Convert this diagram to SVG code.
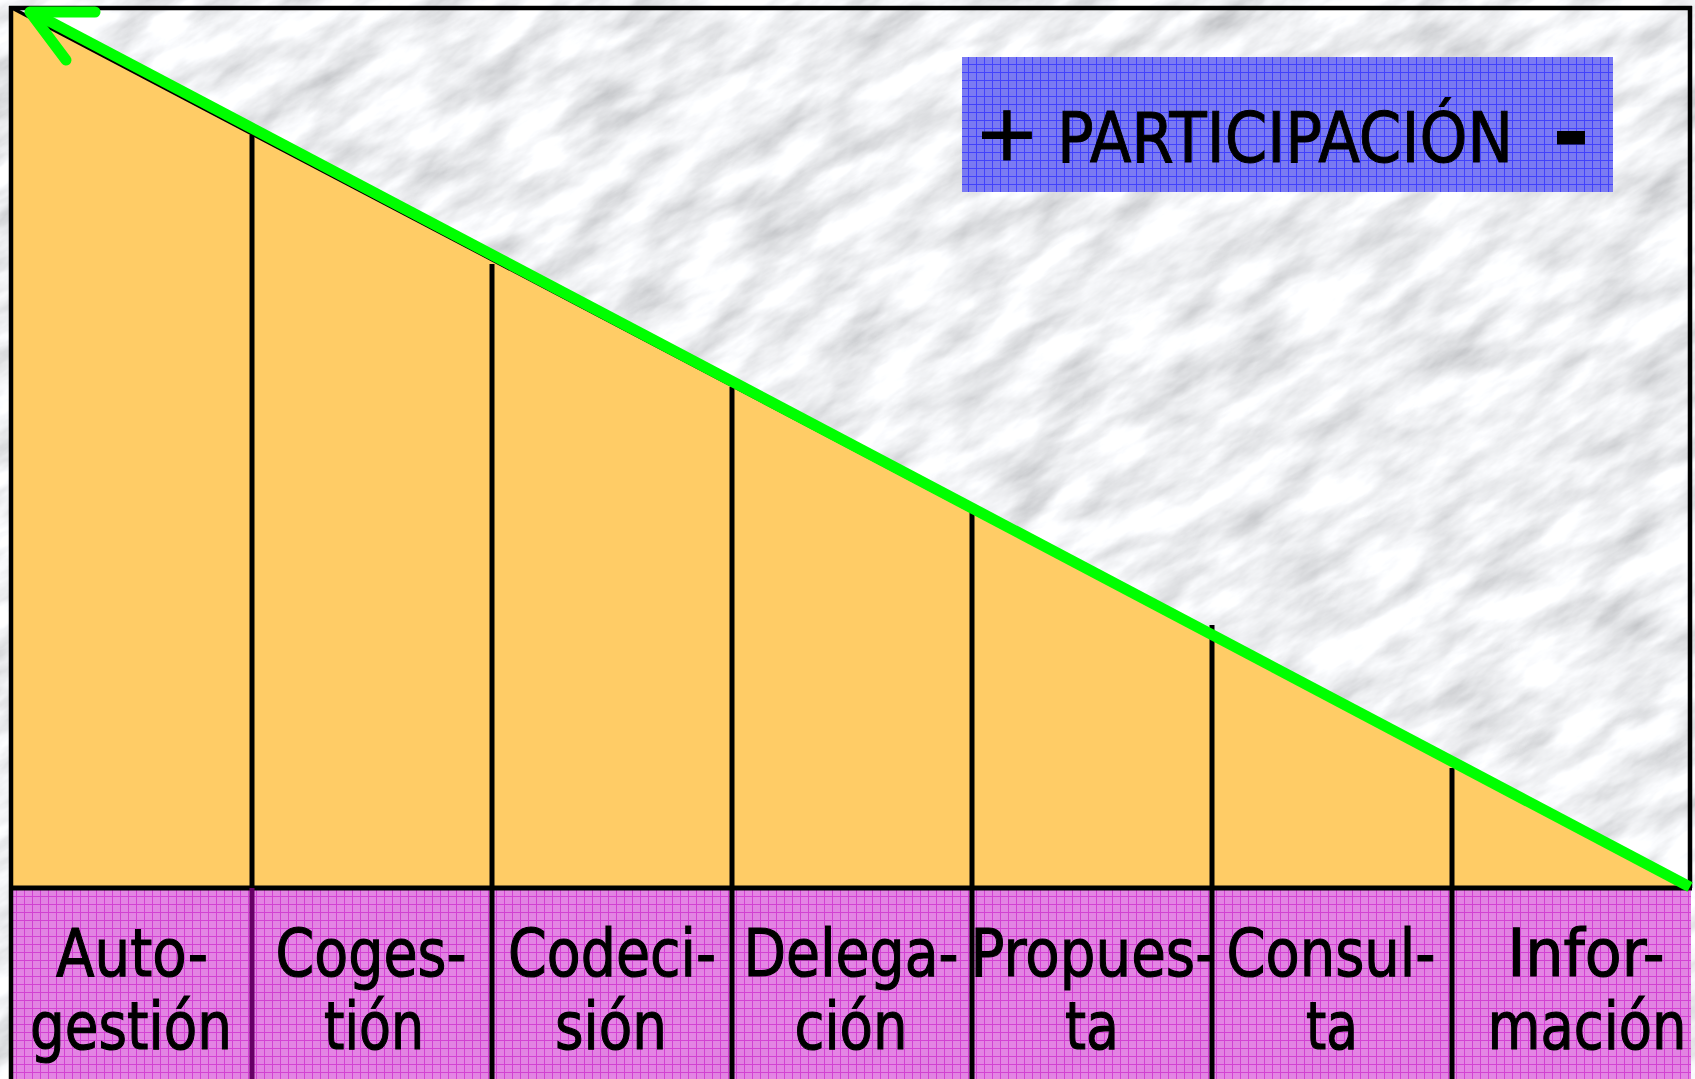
<svg xmlns="http://www.w3.org/2000/svg" width="1695" height="1079" viewBox="0 0 1695 1079">
<defs>
<filter id="marble" x="0" y="0" width="100%" height="100%" filterUnits="objectBoundingBox">
<feTurbulence type="fractalNoise" baseFrequency="0.012 0.035" numOctaves="6" seed="7" result="n"/>
<feColorMatrix in="n" type="matrix" values="-0.8 0 0 0 1.27  -0.8 0 0 0 1.28  -0.8 0 0 0 1.3  0 0 0 0 1"/>
</filter>
<pattern id="pgrid" x="0" y="0" width="8" height="8" patternUnits="userSpaceOnUse">
<rect width="8" height="8" fill="#e27ce2"/>
<path d="M0 0.5H8M0.5 0V8" stroke="#cc22cc" stroke-width="1" opacity="0.8"/>
</pattern>
<pattern id="bgrid" x="0" y="0" width="8" height="8" patternUnits="userSpaceOnUse">
<rect width="8" height="8" fill="#7474f2"/>
<path d="M0 0.5H8M0.5 0V8" stroke="#2a2aff" stroke-width="1" opacity="0.8"/>
</pattern>
</defs>
<style>
.lbl{font-family:"DejaVu Sans","Liberation Sans",sans-serif;font-size:66px;fill:#000;stroke:#000;stroke-width:1.2;text-anchor:middle}
.div{stroke:#000;stroke-width:5;fill:none}
.frame{stroke:#000;stroke-width:4.5;fill:none}
.head{font-family:"DejaVu Sans","Liberation Sans",sans-serif;fill:#000;stroke:#000;stroke-width:1}
</style>
<g id="background">
<rect x="-400" y="-400" width="2500" height="1900" fill="#e4e6e8" filter="url(#marble)" transform="rotate(-32 847 540)"/>
</g>
<g id="triangle">
<polygon points="12,8 1690,888 12,888" fill="#ffcc66"/>
<line x1="12" y1="8" x2="1690" y2="888" stroke="#000" stroke-width="3.5"/>
</g>
<g id="band">
<rect x="11" y="888" width="1680" height="191" fill="url(#pgrid)" opacity="0.93"/>
</g>
<g id="frame">
<line class="frame" x1="9" y1="8" x2="1692" y2="8"/>
<line class="frame" x1="11" y1="6" x2="11" y2="1079"/>
<line class="frame" x1="1690" y1="6" x2="1690" y2="888"/>
<line x1="9" y1="888" x2="1692" y2="888" stroke="#000" stroke-width="5"/>
</g>
<g id="col-autogestion">
<line class="div" x1="252" y1="135" x2="252" y2="888"/>
<line x1="252" y1="888" x2="252" y2="1079" stroke="#660066" stroke-width="5"/>
<text class="lbl" x="132" y="976" textLength="152" lengthAdjust="spacingAndGlyphs">Auto-</text>
<text class="lbl" x="131" y="1049" textLength="202" lengthAdjust="spacingAndGlyphs">gestión</text>
</g>
<g id="col-cogestion">
<line class="div" x1="492" y1="264" x2="492" y2="1079"/>
<text class="lbl" x="371" y="976" textLength="191" lengthAdjust="spacingAndGlyphs">Coges-</text>
<text class="lbl" x="374" y="1049" textLength="100" lengthAdjust="spacingAndGlyphs">tión</text>
</g>
<g id="col-codecision">
<line class="div" x1="732" y1="387" x2="732" y2="1079"/>
<text class="lbl" x="612" y="976" textLength="208" lengthAdjust="spacingAndGlyphs">Codeci-</text>
<text class="lbl" x="611" y="1049" textLength="112" lengthAdjust="spacingAndGlyphs">sión</text>
</g>
<g id="col-delegacion">
<line class="div" x1="972" y1="512" x2="972" y2="1079"/>
<text class="lbl" x="851" y="976" textLength="215" lengthAdjust="spacingAndGlyphs">Delega-</text>
<text class="lbl" x="851" y="1049" textLength="113" lengthAdjust="spacingAndGlyphs">ción</text>
</g>
<g id="col-propuesta">
<line class="div" x1="1212" y1="625" x2="1212" y2="1079"/>
<text class="lbl" x="1093" y="976" textLength="245" lengthAdjust="spacingAndGlyphs">Propues-</text>
<text class="lbl" x="1092" y="1049" textLength="54" lengthAdjust="spacingAndGlyphs">ta</text>
</g>
<g id="col-consulta">
<line class="div" x1="1452" y1="768" x2="1452" y2="1079"/>
<text class="lbl" x="1331" y="976" textLength="209" lengthAdjust="spacingAndGlyphs">Consul-</text>
<text class="lbl" x="1332" y="1049" textLength="52" lengthAdjust="spacingAndGlyphs">ta</text>
</g>
<g id="col-informacion">
<text class="lbl" x="1586" y="976" textLength="157" lengthAdjust="spacingAndGlyphs">Infor-</text>
<text class="lbl" x="1587" y="1049" textLength="199" lengthAdjust="spacingAndGlyphs">mación</text>
</g>
<g id="heading">
<rect x="962" y="57" width="651" height="135" fill="url(#bgrid)" opacity="0.95"/>
<text class="head" x="1007" y="160" font-size="78" text-anchor="middle">+</text>
<text class="head" x="1057" y="162" font-size="70" textLength="456" lengthAdjust="spacingAndGlyphs">PARTICIPACIÓN</text>
<text class="head" x="1571" y="163" font-size="88" font-weight="bold" text-anchor="middle">-</text>
</g>
<g id="connectors">
<line x1="1690" y1="887" x2="32" y2="12" stroke="#00ff00" stroke-width="11"/>
<polyline points="95,12 30,12 66,60" fill="none" stroke="#00ff00" stroke-width="11" stroke-linecap="round" stroke-linejoin="round"/>
</g>
</svg>
